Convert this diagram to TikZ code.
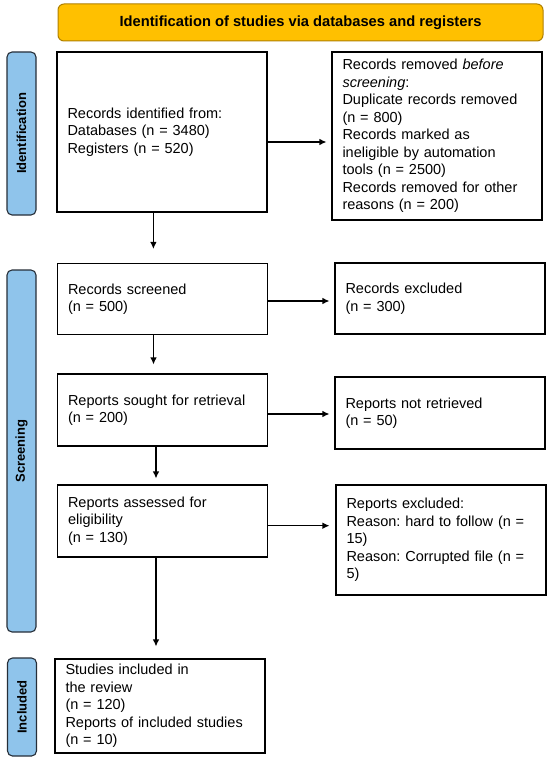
\documentclass[tikz,border=0pt]{standalone}
\usepackage{fontspec}
\setmainfont{Liberation Sans}
\usetikzlibrary{arrows.meta}
\frenchspacing
\definecolor{headfill}{RGB}{255,192,0}
\definecolor{headline}{RGB}{176,128,0}
\definecolor{sidefill}{RGB}{143,196,235}
\definecolor{sideline}{RGB}{38,46,56}
\begin{document}
\begin{tikzpicture}[x=1pt,y=-1pt,>={Latex[length=7pt,width=6.5pt]},
        box/.style={draw, line width=1.1pt, inner xsep=10.5pt, inner ysep=0pt, text width=189pt, align=left, font=\fontsize{14.5}{17.5}\selectfont},
        side/.style={draw=sideline, fill=sidefill, line width=1.1pt, rounded corners=5pt, rotate=90, minimum height=29pt, inner sep=0pt, font=\bfseries\fontsize{13}{15}\selectfont},
        head/.style={draw=headline, fill=headfill, line width=1pt, rounded corners=6pt, minimum width=485pt, minimum height=37pt, inner sep=0pt, font=\bfseries\fontsize{14.7}{17}\selectfont},
        link/.style={->, line width=1.1pt}]
        \useasboundingbox (0,0) rectangle (550,762);

        \node[head] (title) at (300.5,22.5) {Identification of studies via databases and registers};
        \node[side, minimum width=163pt] (idlab) at (21.5,133.5) {Identification};
        \node[side, minimum width=362pt] (scrlab) at (21.5,451) {Screening};
        \node[side, minimum width=98pt] (inclab) at (22,707) {Included};

        \node[box, minimum height=160pt] (ident) at (162,132) {Records identified from:\\Databases (n = 3480)\\Registers (n = 520)};
        \node[box, minimum height=168pt] (removed) at (437,136) {Records removed \textit{before}\\\textit{screening}:\\Duplicate records removed\\(n = 800)\\Records marked as\\ineligible by automation\\tools (n = 2500)\\Records removed for other\\reasons (n = 200)};
        \node[box, minimum height=71pt] (screened) at (162.5,299) {Records screened\\(n = 500)};
        \node[box, minimum height=71pt] (excl) at (440,298.5) {Records excluded\\(n = 300)};
        \node[box, minimum height=72pt] (sought) at (162.5,410) {Reports sought for retrieval\\(n = 200)};
        \node[box, minimum height=72pt] (notret) at (440,413) {Reports not retrieved\\(n = 50)};
        \node[box, minimum height=72pt] (assessed) at (162.5,521) {Reports assessed for\\eligibility\\(n = 130)};
        \node[box, minimum height=110pt] (rexcl) at (441,540) {Reports excluded:\\Reason: hard to follow (n =\\15)\\Reason: Corrupted file (n =\\5)};
        \node[box, minimum height=94pt] (incl) at (160,706) {Studies included in\\the review\\(n = 120)\\Reports of included studies\\(n = 10)};

        % side arrows
        \draw[link, shorten >=5pt] ([yshift=-10pt]ident.east) -- ([yshift=-10pt]ident.east -| removed.west);
        \draw[link, shorten >=5pt] ([yshift=-2pt]screened.east) -- ([yshift=-2pt]screened.east -| excl.west);
        \draw[link, shorten >=5pt] ([yshift=-4pt]sought.east) -- ([yshift=-4pt]sought.east -| notret.west);
        \draw[link, shorten >=6pt] ([yshift=-4.7pt]assessed.east) -- ([yshift=-4.7pt]assessed.east -| rexcl.west);

        % down arrows
        \draw[link, shorten >=14pt] ([xshift=-8.6pt]ident.south) -- ([xshift=-8.6pt]ident.south |- screened.north);
        \draw[link, shorten >=9pt] ([xshift=-9pt]screened.south) -- ([xshift=-9pt]screened.south |- sought.north);
        \draw[link, shorten >=6pt] ([xshift=-6.5pt]sought.south) -- ([xshift=-6.5pt]sought.south |- assessed.north);
        \draw[link, shorten >=12pt] ([xshift=-6.5pt]assessed.south) -- ([xshift=-6.5pt]assessed.south |- incl.north);
\end{tikzpicture}
\end{document}
